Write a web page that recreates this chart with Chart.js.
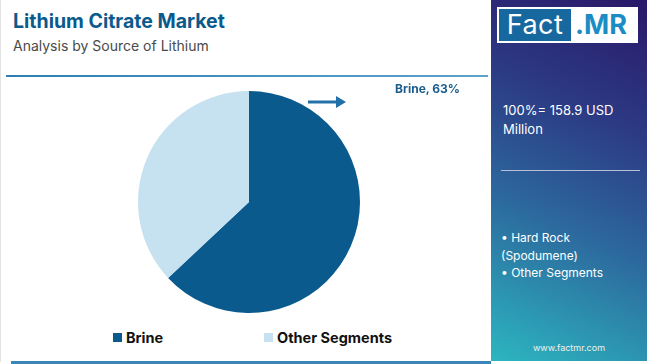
<!DOCTYPE html>
<html>
<head>
<meta charset="utf-8">
<script src="https://cdn.jsdelivr.net/npm/chart.js@4.4.1/dist/chart.umd.min.js"></script>
<style>
  html, body { margin: 0; padding: 0; }
  body { width: 650px; height: 364px; position: relative; overflow: hidden; background: #fff; font-family: "Inter", "Noto Sans", sans-serif; }
  .left { position: absolute; left: 0; top: 0; width: 489px; height: 362px; border-left: 1px solid #e4e4e4; }
  .title { position: absolute; left: 12px; top: 9px; font-size: 19.5px; font-weight: 700; color: #0b5a8c; }
  .subtitle { position: absolute; left: 12px; top: 37px; font-size: 14px; color: #4a4a4a; }
  .rule-top { position: absolute; left: 5px; top: 75px; width: 482px; height: 2px; background: linear-gradient(to right, #2d7fb3, #5da4cc); }
  .rule-bottom { position: absolute; left: 10px; top: 361px; width: 480px; height: 3px; background: #3b86b8; }
  .pie-box { position: absolute; left: 137px; top: 91px; width: 222px; height: 222px; }
  .callout { position: absolute; left: 394px; top: 81px; font-size: 12px; font-weight: 700; color: #1b5e8e; }
  .arrow { position: absolute; left: 306px; top: 94px; }
  .legend { position: absolute; top: 329px; left: 0; width: 490px; height: 22px; }
  .legend .item { position: absolute; top: 0; font-size: 14.5px; font-weight: 700; color: #111; white-space: nowrap; }
  .legend .sw { display: inline-block; width: 9px; height: 9px; margin-right: 4px; vertical-align: 1px; }
  .side { position: absolute; left: 491px; top: 0; width: 156px; height: 361px; background: linear-gradient(205deg, #2a1868 0%, #2c3a84 32%, #2c6a9e 62%, #2cb6c0 100%); color: #fff; }
  .logo { position: absolute; left: 6px; top: 7px; width: 141px; height: 36px; background: #fff; }
  .logo .fact { position: absolute; left: 2px; top: 2px; width: 72px; height: 32px; background: #1868a0; color: #fff; font-size: 27px; line-height: 32px; text-align: center; letter-spacing: 0.5px; }
  .logo .mr { position: absolute; left: 78px; top: 2px; height: 32px; color: #1b8cc4; font-size: 27px; font-weight: 700; line-height: 32px; }
  .total { position: absolute; left: 12px; top: 101px; width: 140px; font-size: 13px; line-height: 19px; }
  .divider { position: absolute; left: 10px; top: 170px; width: 139px; height: 1px; background: #b8bfd6; }
  .bullets { position: absolute; left: 10px; top: 229px; width: 145px; font-size: 12px; line-height: 17.5px; }
  .site { position: absolute; left: 0; top: 342px; width: 156px; text-align: center; font-size: 9px; color: #f0f0f0; }
</style>
</head>
<body>
<div class="left">
  <div class="title">Lithium Citrate Market</div>
  <div class="subtitle">Analysis by Source of Lithium</div>
  <div class="rule-top"></div>
  <div class="pie-box"><canvas id="pie"></canvas></div>
  <svg class="arrow" width="42" height="16">
    <line x1="1" y1="8" x2="30" y2="8" stroke="#2170a8" stroke-width="3"/>
    <polygon points="29,2 39,8 29,14" fill="#2170a8"/>
  </svg>
  <div class="callout" id="callout"></div>
  <div class="legend" id="legend"></div>
  <div class="rule-bottom"></div>
</div>
<div class="side">
  <div class="logo"><div class="fact">Fact</div><div class="mr">.MR</div></div>
  <div class="total" id="total"></div>
  <div class="divider"></div>
  <div class="bullets" id="bullets"></div>
  <div class="site">www.factmr.com</div>
</div>
<script>
var categories = ['Brine', 'Other Segments'];
var shares = [63, 37];
var colors = ['#0b5a8e', '#c6e1f0'];
var marketTotal = '158.9';
var otherSegments = ['Hard Rock (Spodumene)', 'Other Segments'];
var legendLeft = [112, 263];

var drawPie = function () {
    var ctx = document.getElementById('pie');
    new Chart(ctx, {
        type: 'pie',
        data: {
            labels: categories,
            datasets: [{
                data: shares,
                backgroundColor: colors,
                borderWidth: 0
            }]
        },
        options: {
            responsive: true,
            maintainAspectRatio: false,
            animation: false,
            layout: { padding: 0 },
            plugins: {
                legend: { display: false },
                tooltip: { enabled: false }
            }
        }
    });
};

var drawText = function () {
    document.getElementById('callout').textContent = categories[0] + ', ' + shares[0] + '%';
    document.getElementById('total').textContent = '100%= ' + marketTotal + ' USD Million';

    var legend = document.getElementById('legend');
    categories.forEach(function (name, i) {
        var el = document.createElement('div');
        el.className = 'item';
        el.style.left = legendLeft[i] + 'px';
        var sw = document.createElement('span');
        sw.className = 'sw';
        sw.style.background = colors[i];
        el.appendChild(sw);
        el.appendChild(document.createTextNode(name));
        legend.appendChild(el);
    });

    var bullets = document.getElementById('bullets');
    otherSegments.forEach(function (s) {
        var d = document.createElement('div');
        d.textContent = '\u2022 ' + s;
        bullets.appendChild(d);
    });
};

drawPie();
drawText();
</script>
</body>
</html>
